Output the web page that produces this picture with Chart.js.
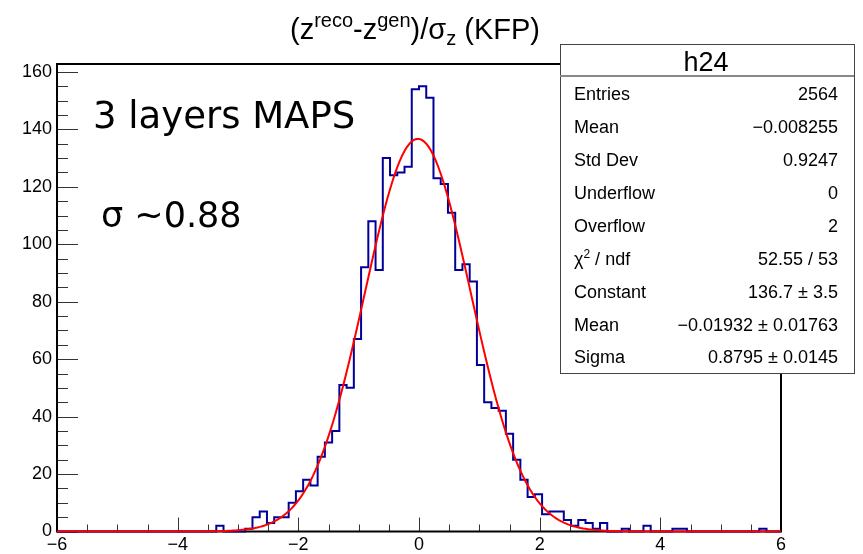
<!DOCTYPE html>
<html>
<head>
<meta charset="utf-8">
<script src="https://cdn.jsdelivr.net/npm/chart.js@4.4.1/dist/chart.umd.min.js"></script>
<style>
html,body{margin:0;padding:0;background:#fff;}
#wrap{width:863px;height:554px;position:relative;}
canvas{display:block;}
</style>
</head>
<body>
<div id="wrap"><canvas id="c" width="863" height="554"></canvas></div>
<script>
// ---------- data ----------
const binLow = -6;
const binHigh = 6;
const nBins = 100;
// counts per bin (bin k = [binLow + k*w, binLow + (k+1)*w])
const counts = [
  0,0,0,0,0,0,0,0,0,0,
  0,0,0,0,0,0,0,0,0,0,
  0,0,2,0,0,0,1,5,7,3,
  5,5,10,14,18,16,26,31,35,51,
  50,67,92,108,91,130,124,125,127,154,
  155,151,123,121,111,91,93,87,58,45,
  43,42,34,25,18,12,13,6,7,7,
  4,2,4,3,1,3,0,0,1,0,
  0,2,0,0,0,1,1,0,0,0,
  0,0,0,0,0,0,0,1,0,0
];
const xTicks = [-6, -4, -2, 0, 2, 4, 6];
const yTicks = [0, 20, 40, 60, 80, 100, 120, 140, 160];
const yMax = 162.75;
// Gaussian fit parameters (from the stats box)
const fitConstant = 136.7;
const fitMean = -0.01932;
const fitSigma = 0.8795;

const statsTitle = "h24";
const statsLabels = ["Entries", "Mean", "Std Dev", "Underflow", "Overflow", "χ2 / ndf", "Constant", "Mean", "Sigma"];
const statsValues = ["2564", "−0.008255", "0.9247", "0", "2", "52.55 / 53", "136.7 ± 3.5", "−0.01932 ± 0.01763", "0.8795 ± 0.0145"];
const annotation1 = "3 layers MAPS";
const annotation2 = "σ ~0.88";

// ---------- build datasets ----------
const binW = (binHigh - binLow) / nBins;
const histPts = counts.map((c, k) => ({x: binLow + k * binW, y: c}));
histPts.push({x: binHigh, y: 0});

const fitPts = [];
const nFit = 300;
for (let i = 0; i <= nFit; i++) {
  const x = binLow + (binHigh - binLow) * i / nFit;
  fitPts.push({x: x, y: fitConstant * Math.exp(-0.5 * Math.pow((x - fitMean) / fitSigma, 2))});
}

const SANS = "'Liberation Sans', Arial, Helvetica, sans-serif";

function drawRich(ctx, parts, x, baseY, align) {
  let total = 0;
  parts.forEach(p => { ctx.font = p.size + "px " + (p.family || SANS); p.w = ctx.measureText(p.t).width; total += p.w; });
  let cx = align === 'center' ? x - total / 2 : (align === 'right' ? x - total : x);
  ctx.textAlign = 'left';
  ctx.textBaseline = 'alphabetic';
  parts.forEach(p => {
    ctx.font = p.size + "px " + (p.family || SANS);
    ctx.fillText(p.t, cx, baseY + (p.dy || 0));
    cx += p.w;
  });
}

const framePlugin = {
  id: 'frame',
  beforeDatasetsDraw(chart) {
    const {ctx, chartArea: a, scales} = chart;
    const xs = scales.x, ys = scales.y;
    ctx.save();
    // ticks inside
    ctx.strokeStyle = '#333';
    ctx.lineWidth = 1;
    ctx.beginPath();
    for (let v = binLow; v <= binHigh + 1e-9; v += 0.5) {
      const px = Math.round(xs.getPixelForValue(v)) + 0.5;
      const major = Math.abs(v % 2) < 1e-9;
      const len = major ? 14 : 7;
      ctx.moveTo(px, a.bottom);
      ctx.lineTo(px, a.bottom - len);
    }
    for (let v = 0; v <= yMax; v += 5) {
      const py = Math.round(ys.getPixelForValue(v)) + 0.5;
      const major = Math.abs(v % 20) < 1e-9;
      const len = major ? 21 : 11;
      ctx.moveTo(a.left, py);
      ctx.lineTo(a.left + len, py);
    }
    ctx.stroke();
    // frame
    ctx.strokeStyle = '#000';
    ctx.lineWidth = 2;
    ctx.strokeRect(a.left, a.top, a.right - a.left, a.bottom - a.top);
    ctx.restore();
  },
  afterDraw(chart) {
    const {ctx} = chart;
    ctx.save();
    ctx.fillStyle = '#000';
    // title
    drawRich(ctx, [
      {t: '(z', size: 29},
      {t: 'reco', size: 20, dy: -12},
      {t: '-z', size: 29},
      {t: 'gen', size: 20, dy: -12},
      {t: ')/σ', size: 29},
      {t: 'z', size: 20, dy: 6},
      {t: ' (KFP)', size: 29}
    ], 415, 39, 'center');
    // annotations
    ctx.font = "37px 'DejaVu Sans', sans-serif";
    ctx.textAlign = 'left';
    ctx.textBaseline = 'alphabetic';
    ctx.fillText(annotation1, 93, 127.5);
    ctx.font = "35px 'DejaVu Sans', sans-serif";
    ctx.fillText(annotation2, 101, 227);
    // stats box
    const bx = 560, by = 44, bw = 294, bh = 329;
    ctx.fillStyle = '#fff';
    ctx.fillRect(bx, by, bw, bh);
    ctx.strokeStyle = '#444';
    ctx.lineWidth = 1;
    ctx.strokeRect(bx + 0.5, by + 0.5, bw, bh);
    ctx.strokeStyle = '#888';
    ctx.lineWidth = 2;
    ctx.beginPath();
    ctx.moveTo(bx, 76);
    ctx.lineTo(bx + bw, 76);
    ctx.stroke();
    ctx.fillStyle = '#000';
    ctx.font = '27px ' + SANS;
    ctx.textAlign = 'center';
    ctx.textBaseline = 'alphabetic';
    ctx.fillText(statsTitle, 706, 71);
    for (let i = 0; i < statsLabels.length; i++) {
      const base = 100 + i * 32.93;
      const lab = statsLabels[i];
      if (lab.startsWith('χ2')) {
        drawRich(ctx, [
          {t: 'χ', size: 18},
          {t: '2', size: 12, dy: -7},
          {t: ' / ndf', size: 18}
        ], 574, base, 'left');
      } else {
        ctx.font = '18px ' + SANS;
        ctx.textAlign = 'left';
        ctx.fillText(lab, 574, base);
      }
      ctx.font = '18px ' + SANS;
      ctx.textAlign = 'right';
      ctx.fillText(statsValues[i], 838, base);
    }
    ctx.restore();
  }
};

new Chart(document.getElementById('c'), {
  type: 'line',
  data: {
    datasets: [
      {
        label: 'fit',
        data: fitPts,
        borderColor: '#ff0000',
        borderWidth: 2,
        pointRadius: 0,
        tension: 0,
        fill: false,
        order: 0,
        clip: 4
      },
      {
        label: 'h24',
        data: histPts,
        borderColor: '#000099',
        borderWidth: 2,
        pointRadius: 0,
        stepped: 'before',
        fill: false,
        order: 1,
        clip: 4
      }
    ]
  },
  options: {
    responsive: false,
    animation: false,
    events: [],
    layout: {padding: {top: 64, right: 82, left: 0, bottom: 0}},
    plugins: {legend: {display: false}, tooltip: {enabled: false}, title: {display: false}},
    scales: {
      x: {
        type: 'linear',
        min: binLow,
        max: binHigh,
        afterFit(s) { s.height = 22.5; },
        afterBuildTicks(s) { s.ticks = xTicks.map(v => ({value: v})); },
        grid: {drawOnChartArea: false, drawTicks: false},
        border: {display: false},
        ticks: {
          padding: 3,
          color: '#000',
          maxRotation: 0,
          autoSkip: false,
          font: {family: SANS, size: 18},
          callback: v => String(v).replace('-', '−')
        }
      },
      y: {
        type: 'linear',
        min: 0,
        max: yMax,
        afterFit(s) { s.width = 57; },
        afterBuildTicks(s) { s.ticks = yTicks.map(v => ({value: v})); },
        grid: {drawOnChartArea: false, drawTicks: false},
        border: {display: false},
        ticks: {
          padding: 5,
          color: '#000',
          autoSkip: false,
          font: {family: SANS, size: 18},
          callback: v => String(v)
        }
      }
    }
  },
  plugins: [framePlugin]
});
</script>
</body>
</html>
